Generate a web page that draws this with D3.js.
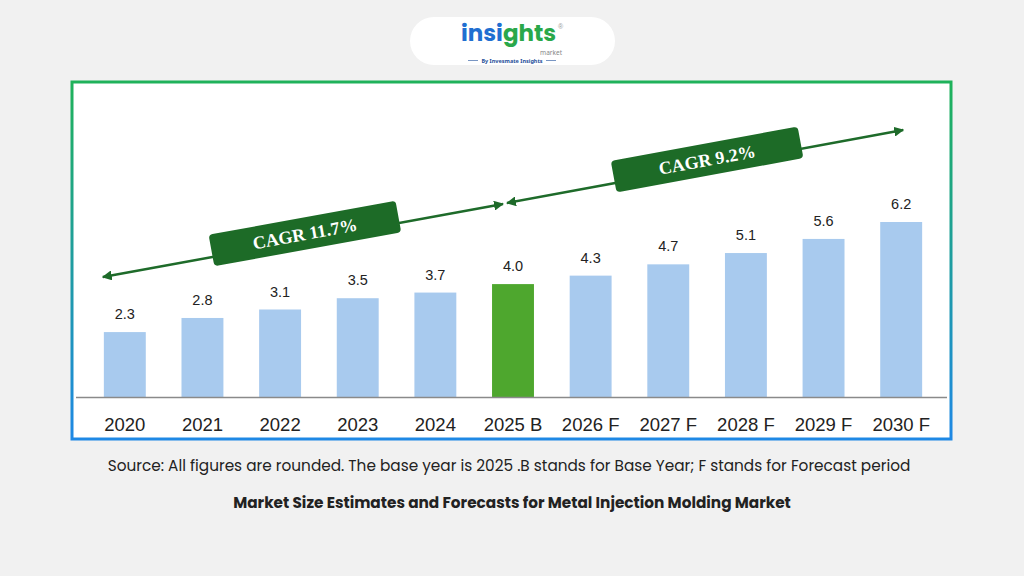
<!DOCTYPE html>
<html>
<head>
<meta charset="utf-8">
<script src="https://cdn.jsdelivr.net/npm/d3@7"></script>
<style>
  body { margin: 0; background: #f1f1f1; }
  svg { display: block; }
</style>
</head>
<body>
<svg id="chart" width="1024" height="576"></svg>
<script>
// chart data
const years = ["2020", "2021", "2022", "2023", "2024", "2025 B", "2026 F", "2027 F", "2028 F", "2029 F", "2030 F"]
const values = [2.3, 2.8, 3.1, 3.5, 3.7, 4.0, 4.3, 4.7, 5.1, 5.6, 6.2]
const baseYear = "2025 B"
const cagrLabels = ["CAGR 11.7%", "CAGR 9.2%"]
const sourceText = "Source: All figures are rounded. The base year is 2025 .B stands for Base Year; F stands for Forecast period"
const titleText = "Market Size Estimates and Forecasts for Metal Injection Molding Market"

const svg = d3.select("#chart")
const defs = svg.append("defs")

// frame gradient green -> blue
const grad = defs.append("linearGradient")
    .attr("id", "frameGrad")
    .attr("x1", 0).attr("y1", 0).attr("x2", 0).attr("y2", 1)
grad.append("stop").attr("offset", "0%").attr("stop-color", "#1fb25a")
grad.append("stop").attr("offset", "100%").attr("stop-color", "#1e88e5")

defs.append("marker")
    .attr("id", "arrowHead")
    .attr("viewBox", "0 0 10 10")
    .attr("refX", 9).attr("refY", 5)
    .attr("markerWidth", 4).attr("markerHeight", 4)
    .attr("orient", "auto-start-reverse")
  .append("path")
    .attr("d", "M0,0 L10,5 L0,10 z")
    .attr("fill", "#1e6b2a")

// logo pill
const logo = svg.append("g")
logo.append("rect")
    .attr("x", 410).attr("y", 17).attr("width", 205).attr("height", 48)
    .attr("rx", 24).attr("fill", "#ffffff")
const logoText = logo.append("text")
    .attr("x", 461).attr("y", 41)
    .attr("font-family", "Poppins, 'Noto Sans', sans-serif")
    .attr("font-weight", "bold").attr("font-size", 23)
logoText.append("tspan").attr("fill", "#1f6fd1").text("insi")
logoText.append("tspan").attr("fill", "#2aa84a").text("ghts")
logo.append("text")
    .attr("x", 558).attr("y", 29).attr("font-size", 7).attr("fill", "#999")
    .attr("font-family", "sans-serif").text("®")
logo.append("text")
    .attr("x", 562).attr("y", 55).attr("text-anchor", "end")
    .attr("font-size", 6.5).attr("fill", "#888")
    .attr("font-family", "'Noto Sans', sans-serif").text("market")
logo.append("text")
    .attr("x", 512).attr("y", 62.5).attr("text-anchor", "middle")
    .attr("font-size", 5.5).attr("font-weight", "bold").attr("fill", "#1f4f9a")
    .attr("font-family", "'Noto Sans', sans-serif").text("By Invesmate Insights")
logo.append("line").attr("x1", 468).attr("x2", 478).attr("y1", 60.5).attr("y2", 60.5)
    .attr("stroke", "#1f4f9a").attr("stroke-width", 0.6)
logo.append("line").attr("x1", 546).attr("x2", 556).attr("y1", 60.5).attr("y2", 60.5)
    .attr("stroke", "#1f4f9a").attr("stroke-width", 0.6)

// chart frame
svg.append("rect")
    .attr("x", 72).attr("y", 82).attr("width", 879).attr("height", 357)
    .attr("fill", "#ffffff")
    .attr("stroke", "url(#frameGrad)").attr("stroke-width", 3)

const x = d3.scaleBand()
    .domain(years)
    .range([86, 940])
    .paddingInner(0.46)
    .paddingOuter(0.23)

const y = d3.scaleLinear()
    .domain([0, 6.2])
    .range([397, 222])

// bars
svg.append("g")
  .selectAll("rect")
  .data(values)
  .join("rect")
    .attr("x", (d, i) => x(years[i]))
    .attr("y", d => y(d))
    .attr("width", x.bandwidth())
    .attr("height", d => y(0) - y(d))
    .attr("fill", (d, i) => years[i] === baseYear ? "#4ea72e" : "#a8caee")

// value labels
svg.append("g")
    .attr("font-family", "'Liberation Sans', Arial, sans-serif")
    .attr("font-size", 14.5)
    .attr("fill", "#222")
    .attr("text-anchor", "middle")
  .selectAll("text")
  .data(values)
  .join("text")
    .attr("x", (d, i) => x(years[i]) + x.bandwidth() / 2)
    .attr("y", d => y(d) - 13)
    .text(d => d.toFixed(1))

// baseline
svg.append("line")
    .attr("x1", 76).attr("x2", 947)
    .attr("y1", y(0) + 0.5).attr("y2", y(0) + 0.5)
    .attr("stroke", "#8a8a8a").attr("stroke-width", 1.5)

// x axis labels
const xAxis = svg.append("g")
    .attr("transform", `translate(0,${y(0)})`)
    .call(d3.axisBottom(x).tickSize(0).tickPadding(21))
xAxis.select(".domain").remove()
xAxis.selectAll("text")
    .attr("font-family", "'Liberation Sans', Arial, sans-serif")
    .attr("font-size", 18.5)
    .attr("fill", "#222")

// CAGR arrows, anchored at bar centres
const cx = i => x(years[i]) + x.bandwidth() / 2
const arrows = [
  { x1: cx(0) - 22, y1: 277, x2: cx(5) - 10, y2: 204, label: cagrLabels[0] },
  { x1: cx(5) - 6, y1: 203, x2: cx(10) + 2, y2: 130, label: cagrLabels[1] }
]
arrows.forEach(a => {
  svg.append("line")
      .attr("x1", a.x1).attr("y1", a.y1).attr("x2", a.x2).attr("y2", a.y2)
      .attr("stroke", "#1e6b2a").attr("stroke-width", 2.5)
      .attr("marker-start", "url(#arrowHead)")
      .attr("marker-end", "url(#arrowHead)")
  const ang = Math.atan2(a.y2 - a.y1, a.x2 - a.x1) * 180 / Math.PI
  const mx = (a.x1 + a.x2) / 2 + 2, my = (a.y1 + a.y2) / 2 - 7
  const g = svg.append("g").attr("transform", `translate(${mx},${my}) rotate(${ang})`)
  g.append("rect")
      .attr("x", -95).attr("y", -16).attr("width", 190).attr("height", 32)
      .attr("rx", 4).attr("fill", "#1d6b27")
  g.append("text")
      .attr("text-anchor", "middle").attr("dy", "0.36em")
      .attr("font-family", "'Liberation Serif', 'Times New Roman', serif")
      .attr("font-weight", "bold").attr("font-size", 18)
      .attr("fill", "#ffffff")
      .text(a.label)
})

// footer texts
svg.append("text")
    .attr("x", 509).attr("y", 471).attr("text-anchor", "middle")
    .attr("font-family", "Poppins, 'Noto Sans', sans-serif")
    .attr("font-size", 15.3).attr("fill", "#222")
    .text(sourceText)
svg.append("text")
    .attr("x", 512).attr("y", 508).attr("text-anchor", "middle")
    .attr("font-family", "Poppins, 'Noto Sans', sans-serif")
    .attr("font-weight", "bold").attr("font-size", 15.3).attr("fill", "#222")
    .text(titleText)
</script>
</body>
</html>
